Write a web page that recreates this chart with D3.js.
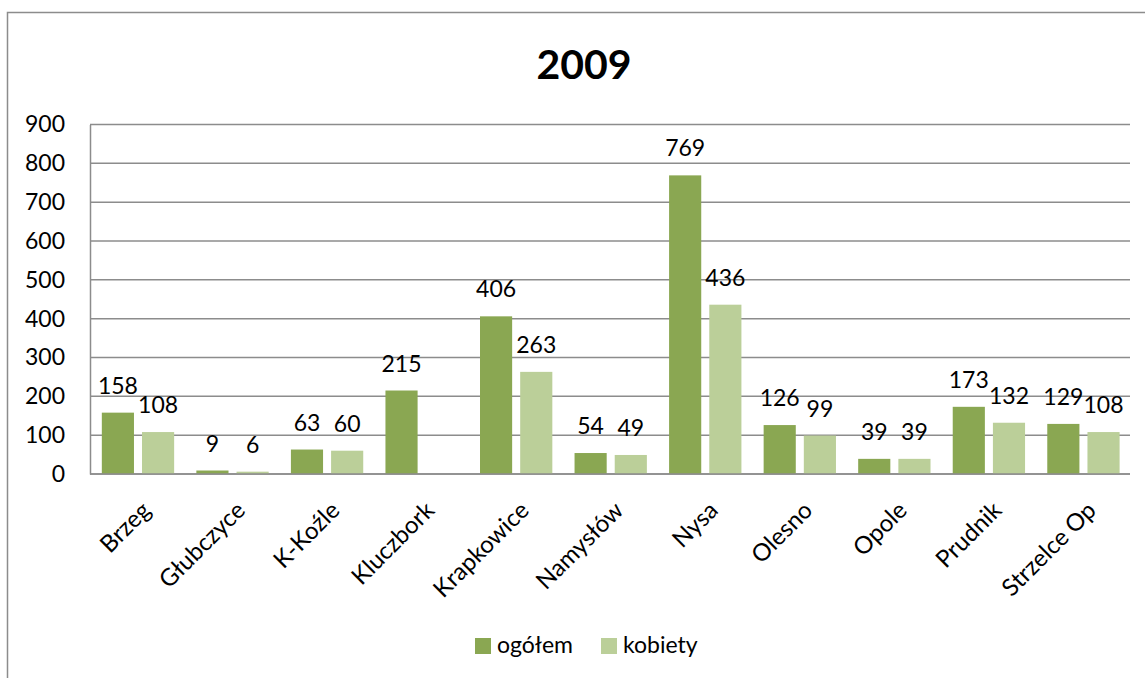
<!DOCTYPE html>
<html>
<head>
<meta charset="utf-8">
<script src="https://cdn.jsdelivr.net/npm/d3@7"></script>
<style>
  body { margin: 0; background: #fff; }
  text { font-family: Lato, "Open Sans", sans-serif; fill: #000; }
</style>
</head>
<body>
<div id="chart"></div>
<script>
// data
var categories = ["Brzeg", "Głubczyce", "K-Koźle", "Kluczbork", "Krapkowice", "Namysłów",
                  "Nysa", "Olesno", "Opole", "Prudnik", "Strzelce Op"];
var ogolem  = [158, 9, 63, 215, 406, 54, 769, 126, 39, 173, 129];
var kobiety = [108, 6, 60, null, 263, 49, 436, 99, 39, 132, 108];
var seriesNames = ["ogółem", "kobiety"];
var yTicks = [0, 100, 200, 300, 400, 500, 600, 700, 800, 900];
var title = "2009";

var width = 1145, height = 678,
    margin = {top: 124.5, right: 15, bottom: 204, left: 90},
    colors = ["#8aa752", "#bbcf99"],
    gridColor = "#8c8c8c",
    fs = 23;

var svg = d3.select("#chart").append("svg")
  .attr("width", width)
  .attr("height", height);

// outer chart frame
svg.append("rect")
  .attr("x", 7.5).attr("y", 12.5)
  .attr("width", 1160).attr("height", 700)
  .attr("fill", "none")
  .attr("stroke", gridColor)
  .attr("stroke-width", 1.5);

svg.append("text")
  .attr("x", 584).attr("y", 79)
  .attr("text-anchor", "middle")
  .attr("font-size", 41)
  .attr("font-weight", "bold")
  .text(title);

var x = d3.scaleBand()
  .domain(categories)
  .range([margin.left, width - margin.right]);

var y = d3.scaleLinear()
  .domain([0, 900])
  .range([height - margin.bottom, margin.top]);

var bw = x.bandwidth(),
    barW = bw * 0.34,
    inset = bw * 0.125,
    gap = bw * 0.085;

// gridlines
svg.append("g")
  .selectAll("line")
  .data(yTicks)
  .join("line")
  .attr("x1", margin.left).attr("x2", width - margin.right)
  .attr("y1", function (d) { return y(d); })
  .attr("y2", function (d) { return y(d); })
  .attr("stroke", gridColor)
  .attr("stroke-width", 1.5);

// y axis
var yAxis = svg.append("g")
  .attr("transform", "translate(" + margin.left + ",0)")
  .call(d3.axisLeft(y).tickValues(yTicks).tickSize(0).tickPadding(25));
yAxis.select(".domain").attr("stroke", gridColor).attr("stroke-width", 1.5);
yAxis.selectAll("text").attr("font-size", fs).attr("font-family", "Lato, sans-serif");

var series = [ogolem, kobiety];

series.forEach(function (vals, si) {
  var g = svg.append("g");
  var pts = categories.map(function (c, i) { return {c: c, v: vals[i]}; })
    .filter(function (d) { return d.v !== null; });
  var bx = function (d) { return x(d.c) + inset + si * (barW + gap); };

  g.selectAll("rect")
    .data(pts)
    .join("rect")
    .attr("x", bx)
    .attr("y", function (d) { return y(d.v); })
    .attr("width", barW)
    .attr("height", function (d) { return y(0) - y(d.v); })
    .attr("fill", colors[si]);

  g.selectAll("text")
    .data(pts)
    .join("text")
    .attr("x", function (d) { return bx(d) + barW / 2; })
    .attr("y", function (d) { return y(d.v) - 19; })
    .attr("text-anchor", "middle")
    .attr("font-size", fs)
    .text(function (d) { return d.v; });
});

// x axis baseline
svg.append("line")
  .attr("x1", margin.left).attr("x2", width - margin.right)
  .attr("y1", y(0)).attr("y2", y(0))
  .attr("stroke", gridColor)
  .attr("stroke-width", 1.5);

// rotated category labels
svg.append("g")
  .selectAll("text")
  .data(categories)
  .join("text")
  .attr("transform", function (d) {
    return "translate(" + (x(d) + bw / 2 + 3) + "," + (y(0) + 26) + ") rotate(-45)";
  })
  .attr("text-anchor", "end")
  .attr("dy", "0.7em")
  .attr("font-size", 24)
  .text(function (d) { return d; });

// legend
var legend = svg.append("g");
var legX = [475, 601];
seriesNames.forEach(function (name, i) {
  legend.append("rect")
    .attr("x", legX[i]).attr("y", 638)
    .attr("width", 16).attr("height", 16)
    .attr("fill", colors[i]);
  legend.append("text")
    .attr("x", legX[i] + 22).attr("y", 653)
    .attr("font-size", fs)
    .text(name);
});
</script>
</body>
</html>
